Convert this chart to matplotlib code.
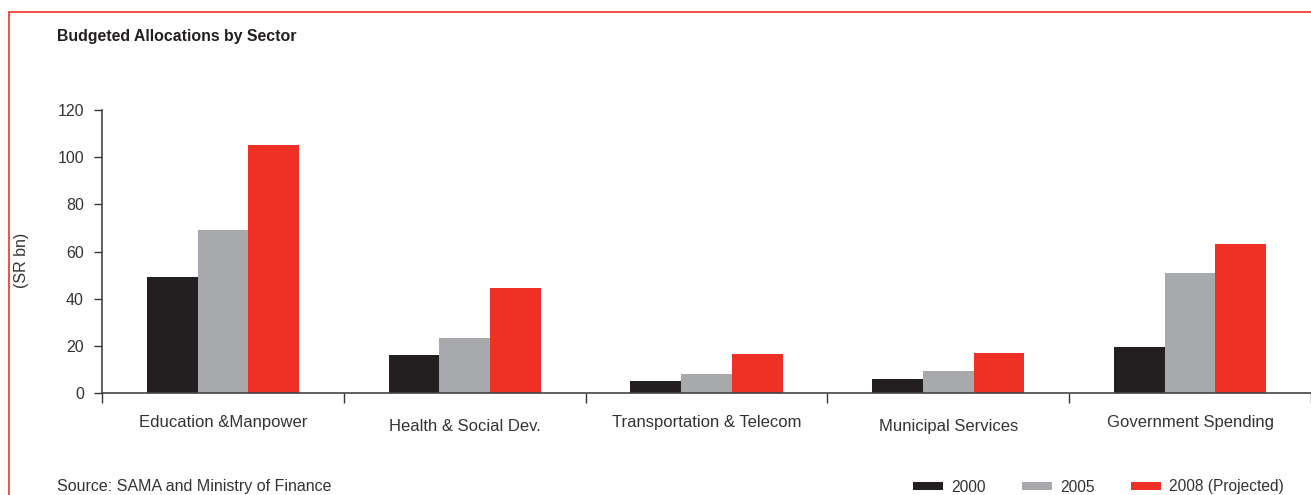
import numpy as np
import matplotlib.pyplot as plt
from matplotlib.patches import Rectangle

plt.rcParams['font.family'] = ['Liberation Sans', 'DejaVu Sans']

# data (SR bn)
sectors = ['Education &Manpower', 'Health & Social Dev.', 'Transportation & Telecom',
           'Municipal Services', 'Government Spending']
years = ['2000', '2005', '2008 (Projected)']
vals_2000 = [49.2, 16.0, 5.0, 6.0, 19.5]
vals_2005 = [69.0, 23.3, 8.0, 9.3, 51.0]
vals_2008 = [105.0, 44.5, 16.5, 17.0, 63.0]

colors = ['#231f20', '#a7a9ac', '#ee3124']
txt = '#333333'

fig = plt.figure(figsize=(13.11, 4.95), dpi=100)
ax = fig.add_axes([102 / 1311, 1 - 393 / 495, 1 - 102 / 1311, (393 - 110) / 495])

x = np.arange(len(sectors))
w = 0.21
for i, (vals, c, lab) in enumerate(zip([vals_2000, vals_2005, vals_2008], colors, years)):
    ax.bar(x + (i - 1) * w, vals, width=w, color=c, label=lab, zorder=2)

ax.set_xlim(-0.5, len(sectors) - 0.5)
ax.set_ylim(0, 120)
ax.set_yticks(range(0, 121, 20))
ax.tick_params(axis='y', labelsize=11.5, colors=txt, length=6, width=1, pad=7,
               labelcolor=txt)

# category boundaries carry the ticks, labels sit at centres
ax.set_xticks(np.arange(-0.5, len(sectors)), minor=False)
ax.set_xticklabels([])
ax.tick_params(axis='x', length=7, width=1, colors=txt)
for i, s in enumerate(sectors):
    dy = -0.1025 if i % 2 == 0 else -0.12
    ax.text(i, dy, s, transform=ax.get_xaxis_transform(), ha='center', va='center',
            fontsize=12, color=txt)

for side in ['top', 'right']:
    ax.spines[side].set_visible(False)
for side in ['left', 'bottom']:
    ax.spines[side].set_color('#444444')
    ax.spines[side].set_linewidth(1.2)

ax.set_ylabel('(SR bn)', fontsize=11.5, color=txt, labelpad=0)
ax.yaxis.set_label_coords(-0.06, 0.47)

fig.text(57 / 1311, 1 - 37 / 495, 'Budgeted Allocations by Sector', fontsize=11.4,
         fontweight='bold', color='#231f20', va='center', ha='left')
fig.text(57 / 1311, 1 - 486 / 495, 'Source: SAMA and Ministry of Finance', fontsize=11.5,
         color=txt, va='center', ha='left')

handles, labels = ax.get_legend_handles_labels()
leg = fig.legend(handles, labels, loc='center left', bbox_to_anchor=(913 / 1311, 1 - 487 / 495),
                 ncol=3, frameon=False, fontsize=11.2, handlelength=1.9, handleheight=0.4,
                 handletextpad=0.55, columnspacing=2.35, borderaxespad=0, borderpad=0)
for t in leg.get_texts():
    t.set_color(txt)

# red frame round the exhibit
fig.patches.append(Rectangle((9 / 1311, -0.1), 1.2, 1 - 12 / 495 + 0.1,
                             transform=fig.transFigure, fill=False,
                             edgecolor='#ee3124', linewidth=1.2))

fig.savefig('out.png', dpi=100)
